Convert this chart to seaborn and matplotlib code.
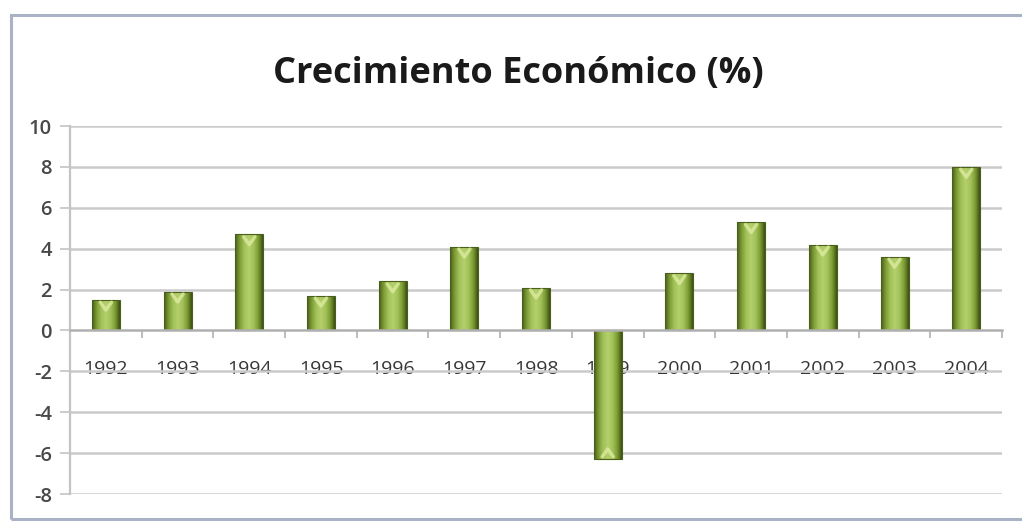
import numpy as np
import pandas as pd
import matplotlib
matplotlib.use("Agg")
import matplotlib.pyplot as plt
from matplotlib.colors import LinearSegmentedColormap
from matplotlib.patches import Rectangle
import seaborn as sns

# Annual economic growth (%)
years = ["1992", "1993", "1994", "1995", "1996", "1997", "1998",
         "1999", "2000", "2001", "2002", "2003", "2004"]
growth = [1.5, 1.9, 4.7, 1.7, 2.4, 4.1, 2.1, -6.3, 2.8, 5.3, 4.2, 3.6, 8.0]
y_ticks = [-8, -6, -4, -2, 0, 2, 4, 6, 8, 10]
title_text = "Crecimiento Económico (%)"

df = pd.DataFrame({"year": years, "growth": growth})

sns.set_theme(style="white")
plt.rcParams["font.family"] = ["Open Sans", "DejaVu Sans"]

fig = plt.figure(figsize=(10.22, 5.22), dpi=100)
ax = fig.add_axes([0.0685, 0.0536, 0.912, 0.705])

sns.barplot(data=df, x="year", y="growth", color="#9bbb59", width=0.39,
            saturation=1, ax=ax, zorder=3)

# cylinder-like shading: horizontal gradient clipped to each bar
shade = LinearSegmentedColormap.from_list(
    "shade", ["#465c1a", "#7c9c34", "#a3c25a", "#b4d06c", "#a3c25a",
              "#7c9c34", "#3b4f12"])
grad = np.linspace(0, 1, 256).reshape(1, -1)
for p in ax.patches:
    x0, y0 = p.get_x(), p.get_y()
    w, h = p.get_width(), p.get_height()
    p.set_facecolor("none")
    p.set_edgecolor("#4a5f1c")
    p.set_linewidth(0.8)
    ylo, yhi = sorted([y0, y0 + h])
    im = ax.imshow(grad, cmap=shade, aspect="auto",
                   extent=[x0, x0 + w, ylo, yhi], zorder=2.9,
                   interpolation="bilinear")
    im.set_clip_path(p)
    # light cap near the far end of each bar
    top = yhi if h >= 0 else ylo
    sgn = 1 if h >= 0 else -1
    ax.plot([x0 + w * 0.3, x0 + w * 0.5, x0 + w * 0.7],
            [top - sgn * 0.12, top - sgn * 0.5, top - sgn * 0.12],
            color="#e4f0a8", lw=2.5, alpha=0.7, zorder=3.1,
            solid_capstyle="round")

ax.set_xlim(-0.5, len(years) - 0.5)
ax.set_ylim(-8, 10)
ax.set_yticks(y_ticks)
ax.set_yticklabels([str(v) for v in y_ticks])

# horizontal gridlines
for v in y_ticks:
    if v != 0:
        ax.axhline(v, color="#cbcbcb", lw=1.8, zorder=1)

# category axis sits on zero
for s in ["top", "right"]:
    ax.spines[s].set_visible(False)
ax.spines["bottom"].set_position(("data", 0))
ax.spines["bottom"].set_color("#b0b0b0")
ax.spines["bottom"].set_linewidth(1.8)
ax.spines["bottom"].set_zorder(4)
ax.spines["left"].set_color("#c4c4c4")
ax.spines["left"].set_linewidth(1.6)

ax.set_xticks(np.arange(len(years)))
ax.set_xticklabels(years)
ax.set_xticks(np.arange(len(years) + 1) - 0.5, minor=True)
ax.tick_params(axis="x", which="major", length=0, pad=21,
               labelsize=14, labelcolor="#363636")
ax.tick_params(axis="x", which="minor", bottom=True, direction="out",
               length=6, width=1.2, color="#b0b0b0")
ax.tick_params(axis="y", which="major", left=True, direction="out",
               length=7, width=1.2, color="#c4c4c4", pad=6,
               labelsize=14.5, labelcolor="#484848")
for lab in ax.get_yticklabels():
    lab.set_fontweight("semibold")
for lab in ax.get_xticklabels():
    lab.set_zorder(5)

ax.set_xlabel("")
ax.set_ylabel("")

fig.text(0.507, 0.858, title_text, ha="center", va="center",
         fontsize=26, fontweight="bold", color="#1a1a1a")

# chart frame
fig.patches.append(Rectangle((11 / 1022, 3 / 522), 1.2, 1 - 18 / 522,
                             transform=fig.transFigure, fill=False,
                             edgecolor="#aab2c8", lw=2.2, clip_on=False))

fig.savefig("out.png", dpi=100)
